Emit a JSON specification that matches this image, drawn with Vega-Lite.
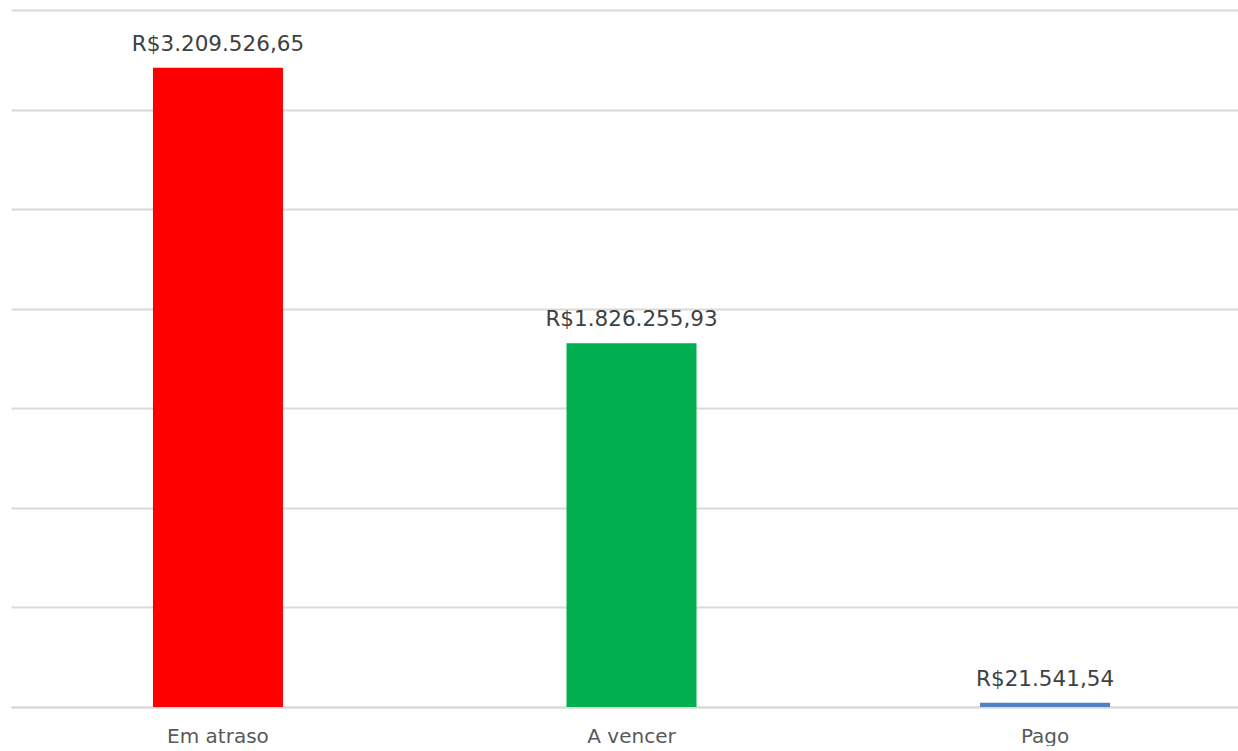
{
  "$schema": "https://vega.github.io/schema/vega-lite/v6.json",
  "width": 1227,
  "height": 697,
  "padding": {"left": 11, "right": 0, "top": 10, "bottom": 0},
  "background": "white",
  "config": {
    "view": {"stroke": null},
    "font": "DejaVu Sans",
    "locale": {
      "number": {"decimal": ",", "thousands": ".", "grouping": [3], "currency": ["R$", ""]}
    }
  },
  "data": {
    "values": [
      {"status": "Em atraso", "valor": 3209526.65},
      {"status": "A vencer", "valor": 1826255.93},
      {"status": "Pago", "valor": 21541.54}
    ]
  },
  "encoding": {
    "x": {
      "field": "status",
      "type": "nominal",
      "sort": ["Em atraso", "A vencer", "Pago"],
      "scale": {"paddingInner": 0.6856, "paddingOuter": 0.3263, "align": 0.526},
      "axis": {
        "title": null,
        "labelAngle": 0,
        "labelFont": "DejaVu Sans",
        "labelFontSize": 20,
        "labelColor": "#595959",
        "labelPadding": 19,
        "ticks": false,
        "domainColor": "#d9d9d9",
        "domainWidth": 2
      }
    },
    "y": {
      "field": "valor",
      "type": "quantitative",
      "scale": {"domain": [0, 3500000], "nice": false},
      "axis": {
        "title": null,
        "labels": false,
        "ticks": false,
        "domain": false,
        "values": [0, 500000, 1000000, 1500000, 2000000, 2500000, 3000000, 3500000],
        "gridColor": "#d9d9d9",
        "gridWidth": 2
      }
    }
  },
  "layer": [
    {
      "mark": {"type": "bar"},
      "encoding": {
        "color": {
          "field": "status",
          "type": "nominal",
          "scale": {"domain": ["Em atraso", "A vencer", "Pago"], "range": ["#ff0000", "#00b050", "#4f81c4"]},
          "legend": null
        }
      }
    },
    {
      "mark": {"type": "text", "baseline": "alphabetic", "dy": -17, "fontSize": 21.5, "font": "DejaVu Sans", "color": "#404040"},
      "encoding": {
        "text": {"field": "valor", "type": "quantitative", "format": "$,.2f"}
      }
    }
  ]
}
